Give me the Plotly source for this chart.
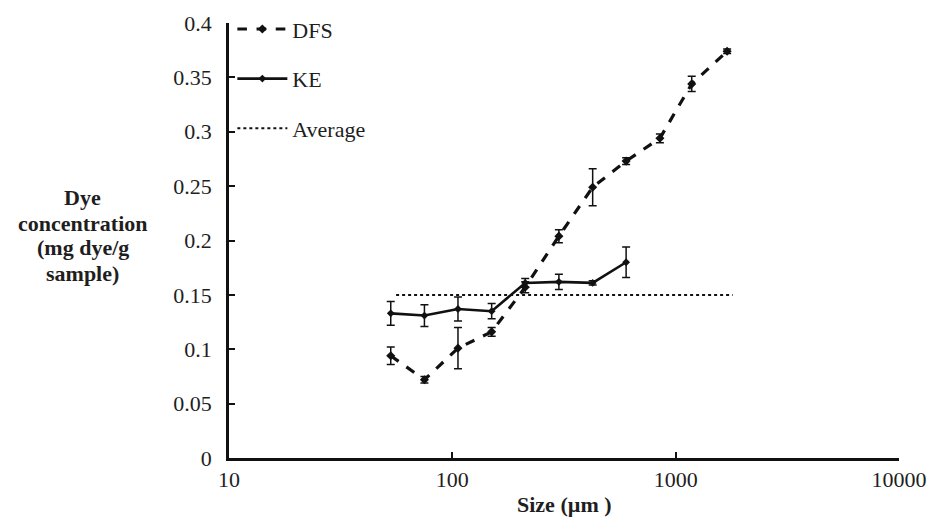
import plotly.graph_objects as go

# Sieve fraction sizes (µm)
sizes_dfs = [53, 75, 106, 150, 212, 300, 425, 600, 850, 1180, 1700]
dfs_conc = [0.094, 0.072, 0.101, 0.116, 0.157, 0.204, 0.249, 0.273, 0.294, 0.344, 0.374]
dfs_err = [0.008, 0.003, 0.019, 0.004, 0.005, 0.006, 0.017, 0.003, 0.004, 0.007, 0.002]

sizes_ke = [53, 75, 106, 150, 212, 300, 425, 600]
ke_conc = [0.133, 0.131, 0.137, 0.135, 0.161, 0.162, 0.161, 0.180]
ke_err = [0.011, 0.010, 0.011, 0.007, 0.004, 0.007, 0.002, 0.014]

avg_x = [56, 1800]
avg_y = [0.15, 0.15]

x_ticks = [10, 100, 1000, 10000]
y_ticks = [0, 0.05, 0.1, 0.15, 0.2, 0.25, 0.3, 0.35, 0.4]

y_title_lines = ["Dye", "concentration", "(mg dye/g", "sample)"]

serif = "Liberation Serif"
ink = "#111111"
txt = "#1e1e1e"
fs = 22

fig = go.Figure()

fig.add_trace(go.Scatter(
    x=sizes_dfs, y=dfs_conc, name="DFS", mode="lines+markers",
    line=dict(color=ink, width=3.2, dash="dash"),
    marker=dict(color=ink, size=7, symbol="diamond"),
    error_y=dict(type="data", array=dfs_err, color=ink, thickness=1.5, width=4),
    legendgroup="a",
))
fig.add_trace(go.Scatter(
    x=sizes_ke, y=ke_conc, name="KE", mode="lines+markers",
    line=dict(color=ink, width=2.6),
    marker=dict(color=ink, size=6, symbol="diamond"),
    error_y=dict(type="data", array=ke_err, color=ink, thickness=1.5, width=4),
    legendgroup="b",
))
fig.add_trace(go.Scatter(
    x=avg_x, y=avg_y, name="Average", mode="lines",
    line=dict(color=ink, width=2, dash="dot"),
    legendgroup="c",
))

# y-axis title drawn line by line for tight spacing
annotations = []
for i, line in enumerate(y_title_lines):
    annotations.append(dict(
        text=f"<b>{line}</b>", xref="paper", yref="paper",
        x=-0.218, y=(458 - (198 + 25 * i)) / 435,
        xanchor="center", yanchor="middle", showarrow=False,
        font=dict(family=serif, size=fs, color=txt)))
annotations.append(dict(
    text="<b>Size (µm )</b>", xref="paper", yref="paper",
    x=0.5, y=-0.108, xanchor="center", yanchor="middle", showarrow=False,
    font=dict(family=serif, size=fs, color=txt)))

fig.update_layout(
    width=935, height=521,
    margin=dict(l=229, r=36, t=23, b=63, autoexpand=False),
    paper_bgcolor="white", plot_bgcolor="white",
    font=dict(family=serif, size=fs, color=txt),
    showlegend=True,
    legend=dict(x=0.005, y=1.034, xanchor="left", yanchor="top",
                bgcolor="rgba(0,0,0,0)", tracegroupgap=18, itemwidth=50,
                font=dict(family=serif, size=fs, color=txt)),
    xaxis=dict(
        type="log", range=[1, 4], tickvals=x_ticks,
        ticktext=[str(v) for v in x_ticks],
        showgrid=False, zeroline=False,
        showline=True, linecolor=ink, linewidth=2.5,
        ticks="inside", ticklen=6, tickwidth=1.5, tickcolor=ink,
        tickfont=dict(family=serif, size=fs, color=txt),
    ),
    yaxis=dict(
        range=[0, 0.4], tickvals=y_ticks,
        ticktext=["0", "0.05", "0.1", "0.15", "0.2", "0.25", "0.3", "0.35", "0.4"],
        showgrid=False, zeroline=False,
        showline=True, linecolor=ink, linewidth=2.5,
        ticks="inside", ticklen=6, tickwidth=1.5, tickcolor=ink,
        ticklabelstandoff=10,
        tickfont=dict(family=serif, size=fs, color=txt),
    ),
    annotations=annotations,
)

fig.write_html("out.html")
